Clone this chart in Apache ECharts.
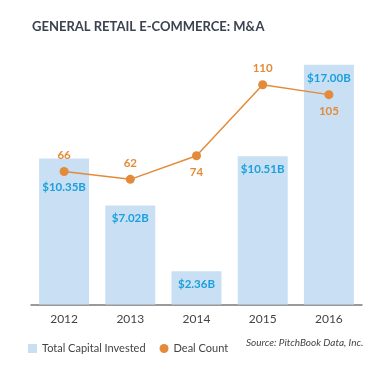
<!DOCTYPE html>
<html><head><meta charset="utf-8">
<script src="https://cdn.jsdelivr.net/npm/echarts@6/dist/echarts.min.js"></script>
<style>html,body{margin:0;padding:0;background:#fff}#c{width:392px;height:388px}</style>
</head><body><div id="c"></div>
<script>
var years = ['2012','2013','2014','2015','2016'];
var capital = [10.35, 7.02, 2.36, 10.51, 17.00];
var capitalLabels = ['$10.35B','$7.02B','$2.36B','$10.51B','$17.00B'];
var dealCount = [66, 62, 74, 110, 105];
var dealLabelPos = ['top','top','bottom','top','bottom'];

var chart = echarts.init(document.getElementById('c'));
var orange = '#e38b3a', blue = '#c9dff3', labelBlue = '#1ca0dc';
chart.setOption({
  animation: false,
  textStyle: { fontFamily: 'Lato' },
  title: { text: 'GENERAL RETAIL E-COMMERCE: M&A', left: 27, top: 15,
    textStyle: { fontFamily: 'Lato', fontWeight: 'bold', fontSize: 13, color: '#3b4250' } },
  grid: { left: 31, right: 30, top: 22.5, bottom: 388 - 304.5 },
  legend: { left: 23, top: 338, itemWidth: 9, itemHeight: 9, itemGap: 14,
    textStyle: { fontSize: 11, color: '#444' },
    data: [{ name: 'Total Capital Invested', icon: 'rect' }, { name: 'Deal Count', icon: 'circle' }] },
  xAxis: { type: 'category', data: years,
    axisLine: { lineStyle: { color: '#7a7a7a', width: 1.5 } }, axisTick: { show: false },
    axisLabel: { color: '#444', fontSize: 12, margin: 9 } },
  yAxis: [
    { type: 'value', min: 0, max: 20, show: false, splitLine: { show: false } },
    { type: 'value', min: -1.5, max: 141.6, show: false, splitLine: { show: false } }
  ],
  series: [
    { name: 'Total Capital Invested', type: 'bar', barWidth: 50, itemStyle: { color: blue },
      data: capital.map(function (v, i) {
        return { value: v, label: { distance: i === 0 ? 23 : 7 } };
      }),
      label: { show: true, position: 'insideTop', color: labelBlue, fontWeight: 'bold', fontSize: 11.5,
        formatter: function (p) { return capitalLabels[p.dataIndex]; } } },
    { name: 'Deal Count', type: 'line', yAxisIndex: 1, symbol: 'circle', symbolSize: 9,
      itemStyle: { color: orange }, lineStyle: { color: orange, width: 1.5 },
      data: dealCount.map(function (v, i) {
        return { value: v, label: { position: dealLabelPos[i] } };
      }),
      label: { show: true, color: orange, fontWeight: 'bold', fontSize: 11.5, distance: 6 } }
  ],
  graphic: [{ type: 'text', left: 246, top: 338,
    style: { text: 'Source: PitchBook Data, Inc.', fill: '#444', font: 'italic 10px Lato' } }]
});
</script></body></html>
